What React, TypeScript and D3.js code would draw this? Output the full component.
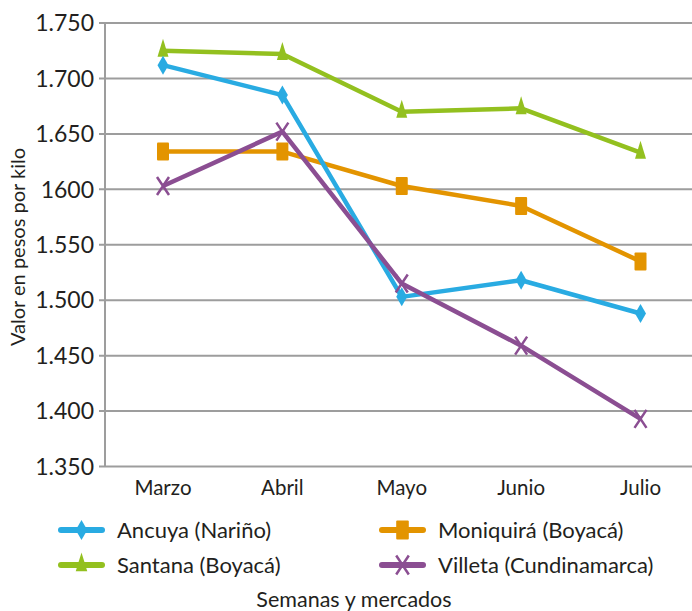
import * as d3 from "d3";
import { useEffect, useRef } from "react";

const months = ["Marzo", "Abril", "Mayo", "Junio", "Julio"];
const ancuya = [1712, 1685, 1503, 1518, 1488];
const moniquira = [1634, 1634, 1603, 1585, 1535];
const santana = [1725, 1722, 1670, 1673, 1633];
const villeta = [1603, 1652, 1515, 1459, 1393];
const yTicks = [1350, 1400, 1450, 1500, 1550, 1600, 1650, 1700, 1750];
const yTickLabels = ["1.350", "1.400", "1.450", "1.500", "1.550", "1600", "1.650", "1.700", "1.750"];

type Series = { name: string; values: number[]; color: string; marker: string };

const series: Series[] = [
  { name: "Moniquirá (Boyacá)", values: moniquira, color: "#E39400", marker: "square" },
  { name: "Santana (Boyacá)", values: santana, color: "#93C01F", marker: "triangle" },
  { name: "Ancuya (Nariño)", values: ancuya, color: "#29ABE2", marker: "diamond" },
  { name: "Villeta (Cundinamarca)", values: villeta, color: "#8B4E92", marker: "x" },
];
const legendOrder = ["Ancuya (Nariño)", "Moniquirá (Boyacá)", "Santana (Boyacá)", "Villeta (Cundinamarca)"];

const W = 692;
const H = 611;
const FONT = "Lato, 'DejaVu Sans', sans-serif";
const INK = "#231f20";

function drawMarker(g: d3.Selection<SVGGElement, unknown, null, undefined>, kind: string, color: string, k = 1) {
  if (kind === "diamond") {
    g.append("path").attr("d", `M0,${-9.5 * k} L${5.5 * k},0 L0,${9.5 * k} L${-5.5 * k},0 Z`).attr("fill", color);
  } else if (kind === "square") {
    g.append("rect")
      .attr("x", -6 * k).attr("y", -9 * k).attr("width", 12 * k).attr("height", 18 * k)
      .attr("rx", 1).attr("fill", color);
  } else if (kind === "triangle") {
    g.append("path").attr("d", `M0,${-12 * k} L${5.5 * k},${6 * k} L${-5.5 * k},${6 * k} Z`).attr("fill", color);
  } else {
    g.append("path")
      .attr("d", `M${-6 * k},${-9 * k} L${6 * k},${9 * k} M${6 * k},${-9 * k} L${-6 * k},${9 * k}`)
      .attr("stroke", color)
      .attr("stroke-width", 2.5)
      .attr("fill", "none");
  }
}

export default function App() {
  const svgRef = useRef<SVGSVGElement | null>(null);

  useEffect(() => {
    const svg = d3.select(svgRef.current);
    svg.selectAll("*").remove();

    const left = 105;
    const top = 23;
    const bottom = 466.5;

    const x = d3.scalePoint<string>().domain(months).range([163, 640.5]);
    const y = d3.scaleLinear().domain([1350, 1750]).range([bottom, top]);

    // gridlines
    svg.append("g")
      .selectAll("line")
      .data(yTicks)
      .join("line")
      .attr("x1", left - 6)
      .attr("x2", W)
      .attr("y1", d => y(d))
      .attr("y2", d => y(d))
      .attr("stroke", "#9d9d9d")
      .attr("stroke-width", 2);

    svg.append("line")
      .attr("x1", left).attr("x2", left)
      .attr("y1", top).attr("y2", bottom)
      .attr("stroke", "#9d9d9d").attr("stroke-width", 2);

    svg.append("g")
      .selectAll("text")
      .data(yTicks)
      .join("text")
      .attr("x", 94)
      .attr("y", d => y(d))
      .attr("dy", "0.36em")
      .attr("text-anchor", "end")
      .attr("font-family", FONT)
      .attr("font-size", 23)
      .attr("fill", INK)
      .text((d, i) => yTickLabels[i]);

    svg.append("g")
      .selectAll("text")
      .data(months)
      .join("text")
      .attr("x", d => x(d)!)
      .attr("y", 495)
      .attr("text-anchor", "middle")
      .attr("font-family", FONT)
      .attr("font-size", 20.5)
      .attr("fill", INK)
      .text(d => d);

    svg.append("text")
      .attr("transform", `translate(25,247) rotate(-90)`)
      .attr("text-anchor", "middle")
      .attr("font-family", FONT)
      .attr("font-size", 20)
      .attr("fill", INK)
      .text("Valor en pesos por kilo");

    svg.append("text")
      .attr("x", 354)
      .attr("y", 607)
      .attr("text-anchor", "middle")
      .attr("font-family", FONT)
      .attr("font-size", 21.5)
      .attr("fill", INK)
      .text("Semanas y mercados");

    const line = d3.line<number>()
      .x((d, i) => x(months[i])!)
      .y(d => y(d));

    series.forEach(s => {
      svg.append("path")
        .datum(s.values)
        .attr("fill", "none")
        .attr("stroke", s.color)
        .attr("stroke-width", 4.5)
        .attr("stroke-linejoin", "round")
        .attr("d", line);
      s.values.forEach((v, i) => {
        const g = svg.append("g").attr("transform", `translate(${x(months[i])},${y(v)})`);
        drawMarker(g, s.marker, s.color);
      });
    });

    // legend
    legendOrder.forEach((name, idx) => {
      const s = series.find(d => d.name === name)!;
      const col = idx % 2;
      const row = Math.floor(idx / 2);
      const lx = col === 0 ? 61 : 382;
      const ly = 530 + row * 35;
      svg.append("line")
        .attr("x1", lx).attr("x2", lx + 41)
        .attr("y1", ly).attr("y2", ly)
        .attr("stroke", s.color).attr("stroke-width", 6).attr("stroke-linecap", "round");
      const g = svg.append("g").attr("transform", `translate(${lx + 20.5},${ly})`);
      drawMarker(g, s.marker, s.color, 1.05);
      svg.append("text")
        .attr("x", col === 0 ? 117 : 438)
        .attr("y", ly)
        .attr("dy", "0.36em")
        .attr("font-family", FONT)
        .attr("font-size", 22)
        .attr("fill", INK)
        .text(name);
    });
  }, []);

  return (
    <svg
      ref={svgRef}
      width={W}
      height={H}
      style={{ position: "absolute", left: 0, top: 0, background: "#fff" }}
    />
  );
}
